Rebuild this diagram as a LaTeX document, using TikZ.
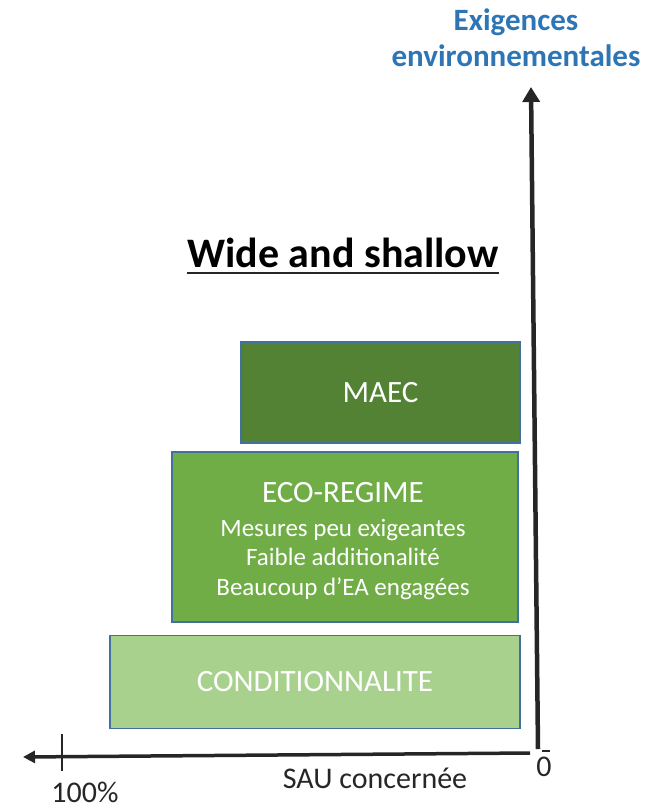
\documentclass[tikz,border=0pt]{standalone}
\usepackage{fontspec}
\setmainfont{Carlito}
\usetikzlibrary{arrows.meta}

\definecolor{maecgreen}{HTML}{548235}
\definecolor{ecogreen}{HTML}{70AD47}
\definecolor{condgreen}{HTML}{A9D18E}
\definecolor{boxblue}{HTML}{41719C}
\definecolor{titleblue}{HTML}{2E75B6}
\definecolor{axisgray}{HTML}{262626}

\tikzset{
  level/.style={draw=boxblue, line width=1.5pt, fill=#1, text=white,
    inner sep=0pt, align=center},
  axislabel/.style={text=axisgray, inner sep=0pt, font=\fontsize{30}{34}\selectfont},
  axisline/.style={line width=#1, axisgray},
}

\begin{document}
\begin{tikzpicture}[x=1pt, y=-1pt]
  \useasboundingbox (0,0) rectangle (649,809);

  % title and vertical axis label
  \node[inner sep=0pt, anchor=base, font=\fontsize{42}{48}\selectfont\bfseries]
    (title) at (343,267) {Wide and shallow};
  \draw[line width=2.8pt, axisgray] ([yshift=-6pt]title.base west) -- ([yshift=-6pt]title.base east);
  \node[inner sep=0pt, align=center, text=titleblue,
    font=\fontsize{31}{36}\selectfont\bfseries] (ylab) at (516,38)
    {Exigences\\environnementales};

  % the three levels
  \node[level=maecgreen, minimum width=279pt, minimum height=101pt,
    font=\fontsize{31}{36}\selectfont] (maec) at (380.5,392.5) {MAEC};
  \node[level=ecogreen, minimum width=346pt, minimum height=170pt,
    font=\fontsize{25}{29.5}\selectfont] (eco) at (345,537) {};
  \node[text=white, inner sep=0pt, align=center,
    font=\fontsize{25}{29.5}\selectfont] (ecotext) at (343,541)
    {{\fontsize{31}{36}\selectfont ECO-REGIME}\\[4.5pt]
     Mesures peu exigeantes\\Faible additionalité\\Beaucoup d’EA engagées};
  \node[level=condgreen, minimum width=410pt, minimum height=93pt,
    font=\fontsize{31}{36}\selectfont] (cond) at (315,682) {CONDITIONNALITE};

  % axes
  \coordinate (orig) at (538,749);
  \coordinate (ytop) at (531,87);
  \coordinate (xstart) at (530,753);
  \coordinate (xend) at (23,757);
  \draw[axisline=4.5pt, -{Triangle[width=17pt,length=15pt]}] (orig) -- (ytop);
  \draw[axisline=3.5pt, -{Triangle[width=12pt,length=12pt]}] (xstart) -- (xend);

  % ticks
  \coordinate (tick1) at (62,734);
  \coordinate (tick2) at (62,771);
  \draw[axisline=2pt] (tick1) -- (tick2);
  \coordinate (zero1) at (542,751);
  \coordinate (zero2) at (550,751);
  \draw[axisline=2pt] (zero1) -- (zero2);

  \node[axislabel] (zero) at (544,767) {0};
  \node[axislabel] (sau) at (375,778) {SAU concernée};
  \node[axislabel, anchor=base] (full) at (85,802) {100\%};
\end{tikzpicture}
\end{document}
